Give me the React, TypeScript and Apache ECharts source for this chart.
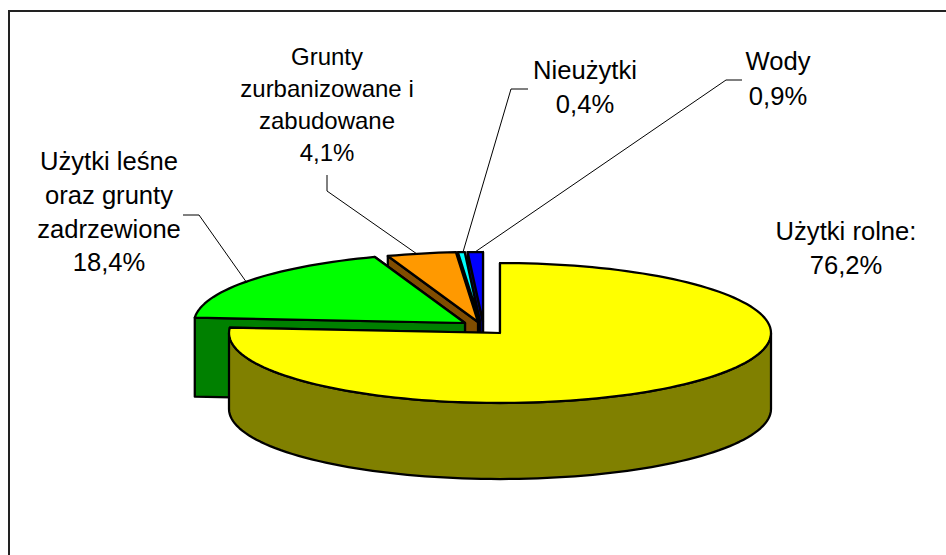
import React, { useEffect, useRef } from "react";
import * as echarts from "echarts";

const categories = ["Użytki rolne:", "Użytki leśne\noraz grunty\nzadrzewione", "Grunty\nzurbanizowane i\nzabudowane", "Nieużytki", "Wody"];
const shares = [76.2, 18.4, 4.1, 0.4, 0.9];
const topColors = ["#ffff00", "#00ff00", "#ff9900", "#00ffff", "#0000ff"];
const sideColors = ["#808000", "#008000", "#804d00", "#008080", "#000080"];
const explodeX = [0, -35, -22, -20, -17];
const explodeY = [0, -10, -11, -11, -11];
const sliceDepth = [76, 79, 76, 76, 76];
const labelX = [846, 109, 327, 585, 778];
const labelY = [213.5, 144.5, 40, 52.5, 43.5];
const labelSize = [25.6, 25.6, 24, 25.6, 25.6];
const labelLead = [34, 33.7, 32, 34.6, 35];
const labelLines = [
  null,
  [[183, 215], [199, 215], [247, 283]],
  [[327, 175], [327, 191], [417, 254]],
  [[528, 89], [511, 89], [463, 252]],
  [[742, 80], [726, 80], [475, 252]],
];

const CX = 500, CY = 333, RX = 271, RY = 70;
const total = shares.reduce((a, b) => a + b, 0);
const FONT = "Liberation Sans";

function pt(cx: number, cy: number, deg: number, drop = 0) {
  const a = (deg * Math.PI) / 180;
  return [cx + RX * Math.sin(a), cy - RY * Math.cos(a) + drop];
}
function arcPts(cx: number, cy: number, a0: number, a1: number, drop = 0) {
  const out: number[][] = [];
  const n = Math.max(2, Math.ceil(Math.abs(a1 - a0) / 2));
  for (let i = 0; i <= n; i++) out.push(pt(cx, cy, a0 + ((a1 - a0) * i) / n, drop));
  return out;
}

function sliceGroup(i: number) {
  let start = 0;
  for (let k = 0; k < i; k++) start += (shares[k] / total) * 360;
  const end = start + (shares[i] / total) * 360;
  const cx = CX + explodeX[i], cy = CY + explodeY[i], depth = sliceDepth[i];
  const stroke = { stroke: "#000", lineWidth: 2.25, lineJoin: "round" };
  const children: any[] = [];
  const poly = (points: number[][], fill: string) =>
    children.push({ type: "polygon", shape: { points }, style: { fill, ...stroke } });
  // cut faces far to near, then the rim in front, then the top
  const face = (a: number) => {
    const p = pt(cx, cy, a);
    poly([[cx, cy], p, [p[0], p[1] + depth], [cx, cy + depth]], sideColors[i]);
  };
  [start, end].sort((a, b) => pt(cx, cy, a)[1] - pt(cx, cy, b)[1]).forEach(face);
  const a0 = Math.max(start, 90), a1 = Math.min(end, 270);
  if (a1 > a0) poly([...arcPts(cx, cy, a0, a1), ...arcPts(cx, cy, a1, a0, depth)], sideColors[i]);
  poly([[cx, cy], ...arcPts(cx, cy, start, end)], topColors[i]);
  return children;
}

// Painter's order: back slices first, the main slice on top
const paintOrder = [4, 3, 2, 1, 0];

export default function App() {
  const ref = useRef<HTMLDivElement>(null);
  useEffect(() => {
    const chart = echarts.init(ref.current!, null, { renderer: "svg" });
    chart.setOption({
      animation: false,
      backgroundColor: "#fff",
      graphic: [
        { type: "rect", shape: { x: 9, y: 11, width: 1000, height: 600 }, style: { fill: "#fff", stroke: "#222", lineWidth: 2 }, silent: true, z: 0 },
      ],
      series: [
        {
          type: "custom",
          coordinateSystem: "none",
          silent: true,
          z: 2,
          data: paintOrder.map((i) => [i, shares[i]]),
          renderItem: (params: any, api: any) => ({ type: "group", children: sliceGroup(api.value(0)) }),
        },
        {
          type: "custom",
          coordinateSystem: "none",
          silent: true,
          z: 3,
          data: categories.map((_, i) => [i, shares[i]]),
          renderItem: (params: any, api: any) => {
            const i = api.value(0);
            const children: any[] = [];
            const line = labelLines[i];
            if (line) children.push({ type: "polyline", shape: { points: line }, style: { fill: "none", stroke: "#000", lineWidth: 1 } });
            children.push({
              type: "text",
              x: labelX[i],
              y: labelY[i],
              style: {
                text: `${categories[i]}\n${String(shares[i]).replace(".", ",")}%`,
                font: `${labelSize[i]}px "${FONT}"`,
                lineHeight: labelLead[i],
                fill: "#000",
                align: "center",
                verticalAlign: "top",
              },
            });
            return { type: "group", children };
          },
        },
      ],
    });
    return () => chart.dispose();
  }, []);
  return <div ref={ref} style={{ position: "fixed", left: 0, top: 0, width: 946, height: 555 }} />;
}
